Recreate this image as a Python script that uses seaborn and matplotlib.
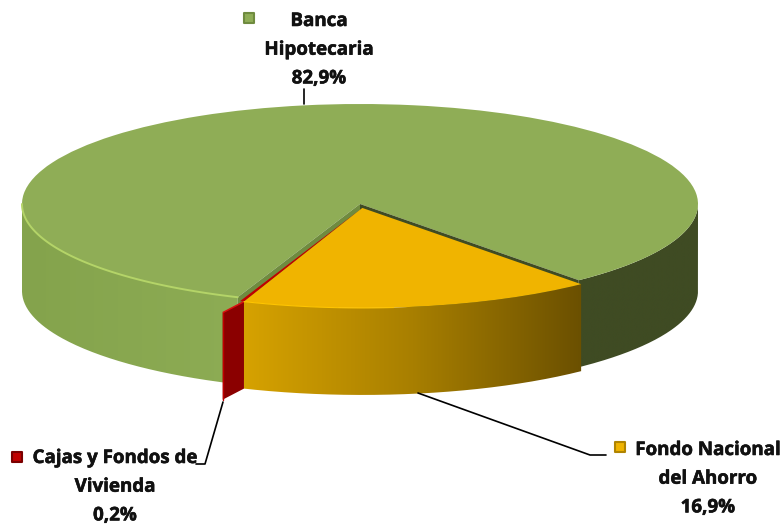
import numpy as np
import matplotlib
matplotlib.use("Agg")
import matplotlib.pyplot as plt
import matplotlib.patheffects as pe
from matplotlib.colors import LinearSegmentedColormap
from matplotlib.patches import PathPatch, Polygon
from matplotlib.path import Path
import seaborn as sns

# datos
categorias = ["Banca\nHipotecaria", "Cajas y Fondos de\nVivienda", "Fondo Nacional\ndel Ahorro"]
valores = [82.9, 0.2, 16.9]
colores = ["#8fad56", "#c00000", "#f0b400"]
bordes_marca = ["#6f8b3f", "#7a0000", "#b08400"]

sns.set_theme(style="white")
plt.rcParams["font.family"] = ["Open Sans", "DejaVu Sans"]

W, H = 784, 525
CX, CY, RX, RY = 360, 204, 338, 100
ALTO = 0.87  # grosor del disco, en radios verticales


def px(x, y):
    # pixeles de la imagen a unidades del pie
    return (x - CX) / RX, (CY - y) / RY


def borde(c, t1, t2, r=1.0):
    t = np.radians(np.linspace(t1, t2, 120))
    return np.column_stack([c[0] + r * np.cos(t), c[1] + r * np.sin(t)])


def lado(ax, c, t1, t2, tonos, z):
    # pared exterior con degradado horizontal
    arriba = borde(c, t1, t2)
    abajo = arriba[::-1] - [0, ALTO]
    pts = np.vstack([arriba, abajo, arriba[:1]])
    clip = PathPatch(Path(pts), fc="none", ec="none", transform=ax.transData)
    ax.add_patch(clip)
    cmap = LinearSegmentedColormap.from_list("lado", tonos)
    im = ax.imshow(np.linspace(0, 1, 256)[None, :], cmap=cmap, aspect="auto",
                   extent=(pts[:, 0].min(), pts[:, 0].max(), pts[:, 1].min(), pts[:, 1].max()), zorder=z)
    im.set_clip_path(clip)


fig = plt.figure(figsize=(W / 100, H / 100), dpi=100)
ax = fig.add_axes([0, 0, 1, 1])

wedges, _ = ax.pie(valores, colors=colores, startangle=-49.66, explode=[0, 0, 0.04],
                   radius=1, frame=True, wedgeprops={"linewidth": 0})
ax.set_aspect("auto")
verde, rojo, amarillo = wedges
c0 = np.array(verde.center)
c1 = np.array(amarillo.center)

# paredes del verde
lado(ax, c0, 180, verde.theta2, ["#84a34c", "#8dac54"], 1)
lado(ax, c0, verde.theta1, 0, ["#3f4b23", "#3f4b23"], 1)
verde.set_zorder(2)

# caras del corte que deja ver el sector separado
p_der = borde(c0, verde.theta1, verde.theta1)[0]
p_izq = borde(c0, verde.theta2, verde.theta2)[0]
ax.add_patch(Polygon([c0, p_der, p_der - [0, ALTO], c0 - [0, ALTO]], fc="#3f4b23", ec="none", zorder=3))
ax.add_patch(Polygon([c0, p_izq, p_izq - [0, ALTO], c0 - [0, ALTO]], fc="#6f8b3f", ec="none", zorder=3))

# sector rojo: va pegado al amarillo, con su cara radial hacia afuera
rojo.set_center(c1)
rojo.set_zorder(4)
r_in = borde(c1, rojo.theta2, rojo.theta2)[0]
r_out = borde(c0, rojo.theta2, rojo.theta2, 1.16)[0]
ax.add_patch(Polygon([r_in, r_out, r_out - [0, ALTO], r_in - [0, ALTO]], fc="#8b0000", ec="none", zorder=4))
ax.plot(*np.array([r_in, r_out]).T, color="#d81010", lw=1.1, zorder=5, solid_capstyle="butt")
ax.plot(*np.array([r_out, r_out - [0, ALTO]]).T, color="#c00000", lw=1, zorder=5)

# sector amarillo
lado(ax, c1, amarillo.theta1, amarillo.theta2, ["#d6a200", "#a87f00", "#6b5000"], 6)
amarillo.set_zorder(7)

# brillos del borde
ax.plot(*borde(c0, 180, verde.theta2).T, color="#b4d468", lw=1.4, zorder=8)
ax.plot(*borde(c1, amarillo.theta1, amarillo.theta2 - 35).T, color="#ffc400", lw=0.8, zorder=8)

ax.set_xlim(px(0, 0)[0], px(W, 0)[0])
ax.set_ylim(px(0, H)[1], px(0, 0)[1])
ax.axis("off")

# etiquetas
textos = [(319, 21), (115, 458), (708, 450)]
marcas = [(249, 18), (17, 457), (620, 447)]
guias = [
    [(304, 89), (304, 104)],
    [(223, 402), (205, 464), (196, 464)],
    [(418, 393), (590, 455), (606, 455)],
]
PASO = 28.7

for cat, val, col, ec, (tx, ty), (mx, my), g in zip(categorias, valores, colores, bordes_marca, textos, marcas, guias):
    lineas = cat.split("\n") + [f"{val:.1f}%".replace(".", ",")]
    for i, s in enumerate(lineas):
        ax.text(*px(tx, ty + i * PASO), s, ha="center", va="center", fontsize=13.5,
                fontweight="bold", color="#111111", zorder=10,
                path_effects=[pe.withStroke(linewidth=0.4, foreground="#111111")])
    ax.scatter(*px(mx, my), marker="s", s=62, color=col, edgecolor=ec, linewidth=1.5, zorder=10)
    ax.plot(*np.array([px(*p) for p in g]).T, color="black", lw=1.2, zorder=9)

fig.savefig("out.png", dpi=100)
